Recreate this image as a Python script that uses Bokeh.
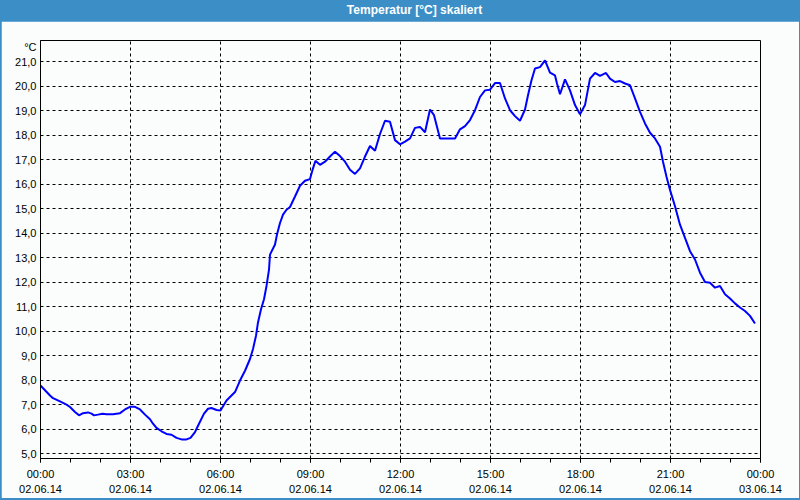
from bokeh.plotting import figure
from bokeh.models import FixedTicker, Div, Range1d
from bokeh.layouts import column
from bokeh.embed import file_html
from bokeh.resources import INLINE

# --- data (minute of day, temperature in °C) ---
minutes = [0, 19, 25, 39, 52, 59, 69, 77, 85, 95, 102, 107, 115, 124, 132, 145,
           159, 169, 179, 189, 199, 209, 219, 225, 232, 242, 252, 262, 272, 282,
           292, 300, 309, 317, 327, 335, 342, 352, 360, 372, 382, 389, 399, 409,
           419, 425, 431, 435, 441, 447, 452, 457, 459, 469, 473, 479, 485, 492,
           499, 509, 519, 529, 539, 545, 550, 559, 569, 579, 589, 599, 609, 619,
           629, 639, 649, 659, 669, 679, 689, 699, 709, 719, 729, 739, 749, 759,
           769, 779, 787, 799, 809, 819, 829, 839, 849, 859, 869, 879, 889, 899,
           909, 919, 929, 939, 949, 959, 969, 975, 982, 989, 999, 1009, 1019, 1029,
           1033, 1039, 1049, 1059, 1069, 1079, 1089, 1099, 1109, 1119, 1131, 1139,
           1149, 1159, 1169, 1179, 1189, 1199, 1209, 1219, 1229, 1239, 1245, 1252,
           1259, 1269, 1279, 1289, 1299, 1309, 1319, 1329, 1339, 1349, 1359, 1369,
           1379, 1389, 1399, 1409, 1419, 1429]
temps = [7.79, 7.38, 7.27, 7.14, 7.01, 6.91, 6.71, 6.57, 6.66, 6.69, 6.64, 6.57,
         6.60, 6.64, 6.62, 6.62, 6.66, 6.81, 6.92, 6.92, 6.81, 6.60, 6.41, 6.23,
         6.06, 5.92, 5.81, 5.78, 5.65, 5.59, 5.59, 5.65, 5.89, 6.23, 6.64, 6.84,
         6.87, 6.79, 6.77, 7.18, 7.38, 7.52, 7.99, 8.39, 8.87, 9.28, 9.82, 10.36,
         10.90, 11.31, 11.85, 12.52, 13.13, 13.54, 13.95, 14.42, 14.76, 14.96,
         15.07, 15.50, 15.94, 16.14, 16.21, 16.65, 16.96, 16.79, 16.92, 17.13,
         17.33, 17.15, 16.92, 16.59, 16.42, 16.65, 17.13, 17.56, 17.37, 18.05,
         18.59, 18.55, 17.80, 17.63, 17.74, 17.87, 18.30, 18.34, 18.12, 19.05,
         18.82, 17.87, 17.87, 17.87, 17.87, 18.24, 18.37, 18.62, 19.02, 19.56,
         19.83, 19.86, 20.13, 20.13, 19.50, 19.02, 18.78, 18.59, 19.05, 19.63,
         20.24, 20.72, 20.78, 21.05, 20.55, 20.44, 20.11, 19.67, 20.28, 19.83,
         19.23, 18.86, 19.23, 20.31, 20.54, 20.42, 20.54, 20.31, 20.17, 20.21,
         20.11, 20.04, 19.50, 18.95, 18.48, 18.10, 17.87, 17.53, 16.92, 16.31,
         15.77, 15.10, 14.35, 13.81, 13.27, 12.93, 12.39, 12.01, 11.98, 11.78,
         11.85, 11.51, 11.34, 11.14, 10.97, 10.83, 10.63, 10.32]

x_tick_hours = [0, 3, 6, 9, 12, 15, 18, 21, 24]
x_tick_labels = ["00:00\n02.06.14", "03:00\n02.06.14", "06:00\n02.06.14",
                 "09:00\n02.06.14", "12:00\n02.06.14", "15:00\n02.06.14",
                 "18:00\n02.06.14", "21:00\n02.06.14", "00:00\n03.06.14"]
y_ticks = [5, 6, 7, 8, 9, 10, 11, 12, 13, 14, 15, 16, 17, 18, 19, 20, 21]
y_tick_labels = ["5,0", "6,0", "7,0", "8,0", "9,0", "10,0", "11,0", "12,0", "13,0",
                 "14,0", "15,0", "16,0", "17,0", "18,0", "19,0", "20,0", "21,0"]
unit_label = "°C"
unit_pos = 21.62
title_text = "Temperatur [°C] skaliert"

hours = [m / 60.0 for m in minutes]

BG = "#fafdfb"
BLUE_BAR = "#3c8ec6"
FONT = "Liberation Sans"

p = figure(width=798, height=477, output_backend="svg", toolbar_location=None,
           x_range=Range1d(0, 24), y_range=Range1d(4.81, 21.865),
           min_border_left=39, min_border_right=39, min_border_top=19,
           min_border_bottom=38, background_fill_color=BG, border_fill_color=BG,
           margin=(0, 1, 2, 1))

p.line(hours, temps, line_color="#0000ff", line_width=2)

# X axis
xa = p.xaxis[0]
xa.ticker = FixedTicker(ticks=x_tick_hours, minor_ticks=list(range(25)))
xa.major_label_overrides = {h: lab for h, lab in zip(x_tick_hours, x_tick_labels)}
xa.major_tick_in = 0
xa.major_tick_out = 4
xa.minor_tick_in = 0
xa.minor_tick_out = 4
xa.major_tick_line_color = "black"
xa.minor_tick_line_color = "black"
xa.axis_line_color = "black"
xa.major_label_text_font = FONT
xa.major_label_text_font_size = "11px"
xa.major_label_text_color = "black"
xa.major_label_text_line_height = 1.3
xa.major_label_standoff = 5

# Y axis
ya = p.yaxis[0]
ya.ticker = FixedTicker(ticks=y_ticks + [unit_pos])
ov = {t: lab for t, lab in zip(y_ticks, y_tick_labels)}
ov[unit_pos] = unit_label
ya.major_label_overrides = ov
ya.major_tick_in = 0
ya.major_tick_out = 0
ya.minor_tick_line_color = None
ya.axis_line_color = "black"
ya.major_label_text_font = FONT
ya.major_label_text_font_size = "11px"
ya.major_label_text_color = "black"
ya.major_label_standoff = 4

# Grids
p.xgrid.ticker = FixedTicker(ticks=x_tick_hours)
p.ygrid.ticker = FixedTicker(ticks=y_ticks)
for g in (p.xgrid[0], p.ygrid[0]):
    g.grid_line_color = "black"
    g.grid_line_dash = "3 3"
    g.grid_line_width = 1

p.outline_line_color = "black"
p.outline_line_width = 1

title = Div(text=('<div style="width:800px;height:21px;line-height:21px;'
                  'box-sizing:border-box;padding-left:29px;text-align:center;'
                  'color:white;font-weight:bold;font-size:12px;'
                  'font-family:\'Liberation Sans\',Arial,sans-serif;">'
                  + title_text + '</div>'),
            width=800, height=21, margin=0)

layout = column(title, p, spacing=0, width=800, height=500,
                styles={"background-color": BLUE_BAR})

open("out.html", "w").write(file_html(layout, INLINE))
